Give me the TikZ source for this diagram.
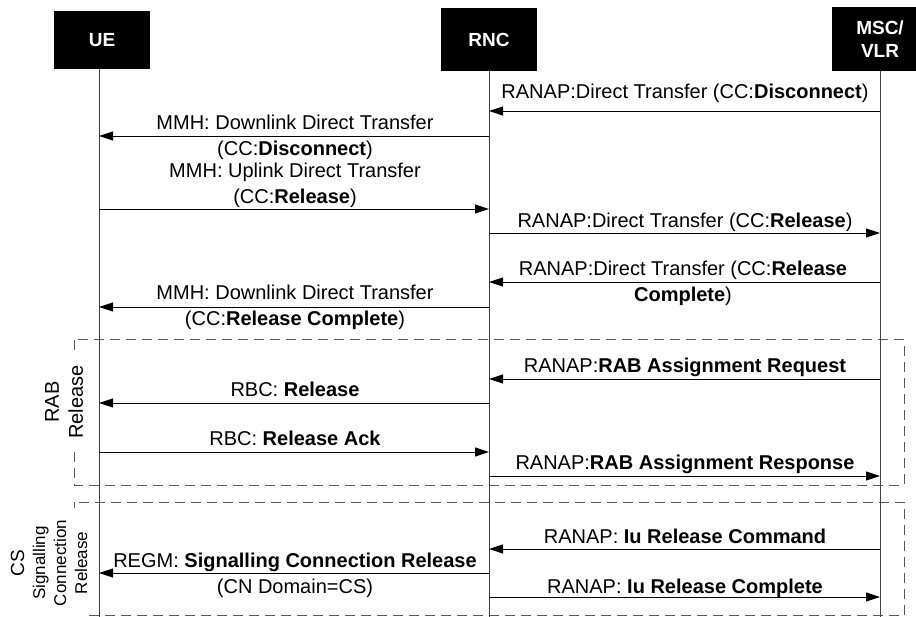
\documentclass[tikz,border=0pt]{standalone}
\usepackage{fontspec}
\setmainfont{Liberation Sans}
\usetikzlibrary{arrows.meta,calc}
\begin{document}
\begin{tikzpicture}[x=1pt,y=-1pt,
  actor/.style={fill=black,text=white,font=\fontsize{19}{23}\selectfont\bfseries,align=center,minimum width=96pt,inner sep=0pt},
  life/.style={draw=black!75,line width=1pt},
  msg/.style={draw=black,line width=0.9pt,-{Triangle[length=14pt,width=9pt]}},
  lbl/.style={font=\fontsize{20}{26}\selectfont,align=center,anchor=base,inner sep=0pt},
  grp/.style={draw=black!65,line width=1pt,dash pattern=on 10pt off 6pt},
  side/.style={rotate=90,fill=white,align=center,inner xsep=12pt,inner ysep=2pt}
]
\useasboundingbox (0,0) rectangle (916,617);

% group boxes
\coordinate (b1a) at (74,340); \coordinate (b1b) at (904,485);
\coordinate (b2a) at (74,502); \coordinate (b2b) at (904,615.5);
\draw[grp] (b1a) rectangle (b1b);
\draw[grp] (b2a) rectangle (b2b);

% side labels
\node[side,font=\fontsize{20}{24}\selectfont] (g1) at (64,402) {RAB\\Release};
\node[side,font=\fontsize{17}{21}\selectfont] (g2) at (49,563) {{\fontsize{19}{21}\selectfont CS}\\Signalling\\Connection\\Release};

% actors
\node[actor,minimum height=58pt] (ue) at (102,40) {UE};
\node[actor,minimum height=63pt] (rnc) at (489,39.5) {RNC};
\node[actor,minimum height=64pt] (msc) at (880,39) {MSC/\\VLR};

\coordinate (ueB) at (99,617);
\coordinate (rncB) at (489,617);
\coordinate (mscB) at (880,617);
\draw[life] (ue.south -| ueB) -- (ueB);
\draw[life] (rnc.south -| rncB) -- (rncB);
\draw[life] (msc.south -| mscB) -- (mscB);

% message end points
\foreach \n/\y in {1/111,2/136,3/209,4/233,5/282,6/307,7/379,8/403,9/452,10/476,11/549,12/573,13/597}{
  \coordinate (u\n) at (99,\y);
  \coordinate (r\n) at (489,\y);
  \coordinate (m\n) at (880,\y);
}

\draw[msg] (m1) -- (r1);
\draw[msg] (r2) -- (u2);
\draw[msg] (u3) -- (r3);
\draw[msg] (r4) -- (m4);
\draw[msg] (m5) -- (r5);
\draw[msg] (r6) -- (u6);
\draw[msg] (m7) -- (r7);
\draw[msg] (r8) -- (u8);
\draw[msg] (u9) -- (r9);
\draw[msg] (r10) -- (m10);
\draw[msg] (m11) -- (r11);
\draw[msg] (r12) -- (u12);
\draw[msg] (r13) -- (m13);

% labels (anchor = baseline of last line)
\node[lbl] (t1) at (685,99) {RANAP:Direct Transfer (CC:\textbf{Disconnect})};
\node[lbl] (t2) at (295,156) {MMH: Downlink Direct Transfer\\(CC:\textbf{Disconnect})};
\node[lbl] (t3) at (295,204) {MMH: Uplink Direct Transfer\\(CC:\textbf{Release})};
\node[lbl] (t4) at (685,228) {RANAP:Direct Transfer (CC:\textbf{Release})};
\node[lbl] (t5) at (683,302) {RANAP:Direct Transfer (CC:\textbf{Release}\\\textbf{Complete})};
\node[lbl] (t6) at (295,326) {MMH: Downlink Direct Transfer\\(CC:\textbf{Release Complete})};
\node[lbl] (t7) at (685,373) {RANAP:\textbf{RAB Assignment Request}};
\node[lbl] (t8) at (295,397) {RBC: \textbf{Release}};
\node[lbl] (t9) at (295,446) {RBC: \textbf{Release Ack}};
\node[lbl] (t10) at (685,470) {RANAP:\textbf{RAB Assignment Response}};
\node[lbl] (t11) at (685,543) {RANAP: \textbf{Iu Release Command}};
\node[lbl] (t12) at (295,593) {REGM: \textbf{Signalling Connection Release}\\(CN Domain=CS)};
\node[lbl] (t13) at (685,593) {RANAP: \textbf{Iu Release Complete}};
\end{tikzpicture}
\end{document}
